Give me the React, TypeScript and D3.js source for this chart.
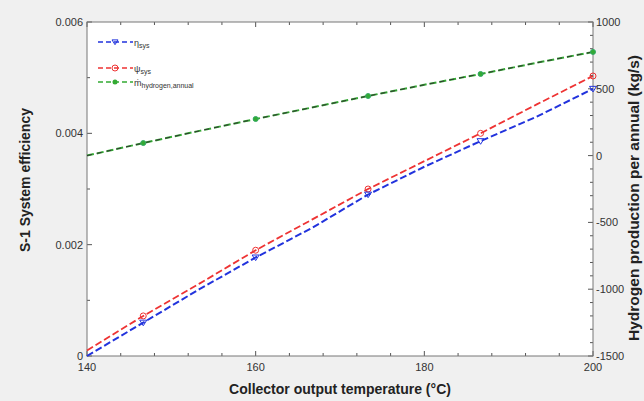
import React from "react";
import * as d3 from "d3";

const temps = [140, 146.67, 153.33, 160, 166.67, 173.33, 180, 186.67, 193.33, 200];
const etaSys = [0.0, 0.0006, 0.0012, 0.00177, 0.0023, 0.0029, 0.0034, 0.00386, 0.0043, 0.0048];
const psiSys = [0.0001, 0.00072, 0.0013, 0.0019, 0.00245, 0.003, 0.0035, 0.004, 0.00452, 0.00503];
const mHydrogen = [0, 94, 185, 274, 360, 446, 530, 611, 695, 776];
const markerIdx = [1, 3, 5, 7, 9];
const xTicks = [140, 160, 180, 200];
const yLeftTicks = [0, 0.002, 0.004, 0.006];
const yRightTicks = [-1500, -1000, -500, 0, 500, 1000];

const W = 644, H = 401;
const L = 87, R = 593, T = 22, B = 356;

export default function App() {
  const x = d3.scaleLinear().domain([140, 200]).range([L, R]);
  const yL = d3.scaleLinear().domain([0, 0.006]).range([B, T]);
  const yR = d3.scaleLinear().domain([-1500, 1000]).range([B, T]);
  const lineL = (vals: number[]) =>
    d3.line<number>().x((_, i) => x(temps[i])).y((v) => yL(v))(vals) || "";
  const lineR = d3.line<number>().x((_, i) => x(temps[i])).y((v) => yR(v))(mHydrogen) || "";
  const font = "'Liberation Sans', Arial, sans-serif";
  const tickCol = "#555";
  const xMinor = d3.range(140, 200.01, 4);
  const yLMinor = d3.range(0, 0.00601, 0.001);
  const yRMinor = d3.range(-1500, 1000.1, 100);
  const tri = (cx: number, cy: number, s = 3.5) =>
    `M${cx - s},${cy - s * 0.7}L${cx + s},${cy - s * 0.7}L${cx},${cy + s * 0.9}Z`;
  const blue = "#2233dd", red = "#ee3333", green = "#33aa33";
  return (
    <svg width={W} height={H} style={{ position: "absolute", left: 0, top: 0, fontFamily: font }}>
      <rect x={0} y={0} width={W} height={H} fill="#f0f0f0" />
      <rect x={L} y={T} width={R - L} height={B - T} fill="#fff" />
      {xMinor.map((t) => (
        <g key={"xm" + t}>
          <line x1={x(t)} x2={x(t)} y1={B} y2={B - (t % 20 === 0 ? 5 : 3)} stroke={tickCol} />
          <line x1={x(t)} x2={x(t)} y1={T} y2={T + (t % 20 === 0 ? 5 : 3)} stroke={tickCol} />
        </g>
      ))}
      {yLMinor.map((t, i) => (
        <line key={"yl" + i} x1={L} x2={L + (i % 2 === 0 ? 5 : 3)} y1={yL(t)} y2={yL(t)} stroke={tickCol} />
      ))}
      {yRMinor.map((t, i) => (
        <line key={"yr" + i} x1={R} x2={R - (i % 5 === 0 ? 5 : 3)} y1={yR(t)} y2={yR(t)} stroke={tickCol} />
      ))}
      <rect x={L} y={T} width={R - L} height={B - T} fill="none" stroke="#777" strokeWidth={1} />
      <path d={lineR} fill="none" stroke={green} strokeWidth={2} strokeDasharray="7 3" />
      <path d={lineR} fill="none" stroke="#333" strokeWidth={1} strokeDasharray="5 5" />
      <path d={lineL(psiSys)} fill="none" stroke={red} strokeWidth={1.8} strokeDasharray="7 3" />
      <path d={lineL(etaSys)} fill="none" stroke={blue} strokeWidth={2} strokeDasharray="7 3" />
      {markerIdx.map((i) => (
        <g key={"m" + i}>
          <circle cx={x(temps[i])} cy={yR(mHydrogen[i])} r={2.5} fill={green} stroke="#3a6" />
          <circle cx={x(temps[i])} cy={yL(psiSys[i])} r={3} fill="none" stroke={red} />
          <path d={tri(x(temps[i]), yL(etaSys[i]))} fill="none" stroke={blue} />
        </g>
      ))}
      {xTicks.map((t) => (
        <text key={"xt" + t} x={x(t)} y={B + 15} textAnchor="middle" fontSize={11} fill="#333">{t}</text>
      ))}
      {yLeftTicks.map((t) => (
        <text key={"ylt" + t} x={L - 4} y={yL(t) + 4} textAnchor="end" fontSize={11} fill="#333">{t}</text>
      ))}
      {yRightTicks.map((t) => (
        <text key={"yrt" + t} x={R + 3} y={yR(t) + 4} textAnchor="start" fontSize={11} fill="#333">{t}</text>
      ))}
      <text x={340} y={394} textAnchor="middle" fontSize={14} fontWeight="bold" fill="#222">
        Collector output temperature (°C)
      </text>
      <text transform={`translate(30,180) rotate(-90)`} textAnchor="middle" fontSize={14} fontWeight="bold" fill="#222">
        S-1 System efficiency
      </text>
      <text transform={`translate(639,198) rotate(-90)`} textAnchor="middle" fontSize={15.5} fontWeight="bold" fill="#222">
        Hydrogen production per annual (kg/s)
      </text>
      <g fontSize={9} fill="#333">
        <line x1={98} x2={133} y1={42} y2={42} stroke={blue} strokeWidth={1.5} strokeDasharray="5 3" />
        <path d={tri(115, 42, 3)} fill="none" stroke={blue} />
        <text x={134} y={46}>η<tspan fontSize={7} dy={2}>sys</tspan></text>
        <line x1={98} x2={133} y1={68} y2={68} stroke={red} strokeWidth={1.5} strokeDasharray="5 3" />
        <circle cx={115} cy={68} r={3} fill="none" stroke={red} />
        <text x={134} y={72}>ψ<tspan fontSize={7} dy={2}>sys</tspan></text>
        <line x1={98} x2={133} y1={82} y2={82} stroke={green} strokeWidth={1.5} strokeDasharray="5 3" />
        <circle cx={115} cy={82} r={2.5} fill={green} />
        <text x={134} y={86}>ṁ<tspan fontSize={7} dy={2}>hydrogen,annual</tspan></text>
      </g>
    </svg>
  );
}
